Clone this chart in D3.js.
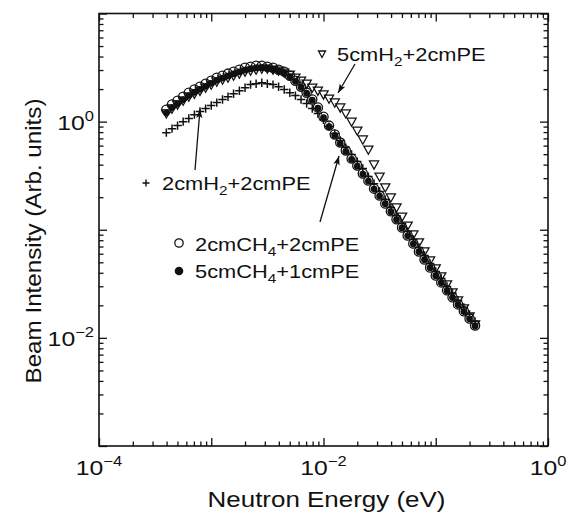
<!DOCTYPE html>
<html><head><meta charset="utf-8">
<script src="https://cdn.jsdelivr.net/npm/d3@7"></script>
<style>
body{margin:0;background:#fff}
svg{display:block}
text{font-family:"Liberation Sans",Arial,Helvetica,sans-serif;fill:#111}
</style>
</head><body>
<svg id="c" width="571" height="515"></svg>
<script>
// ---- data ----
const energy = [3.98e-4,4.47e-4,5.01e-4,5.62e-4,6.31e-4,7.08e-4,7.94e-4,8.91e-4,
  1.00e-3,1.12e-3,1.26e-3,1.41e-3,1.58e-3,1.78e-3,2.00e-3,2.24e-3,2.51e-3,2.82e-3,3.16e-3,3.55e-3,3.98e-3,4.47e-3,5.01e-3,5.62e-3,6.31e-3,7.08e-3,7.94e-3,8.91e-3,
  1.00e-2,1.12e-2,1.26e-2,1.41e-2,1.58e-2,1.78e-2,2.00e-2,2.24e-2,2.51e-2,2.82e-2,3.16e-2,3.55e-2,3.98e-2,4.47e-2,5.01e-2,5.62e-2,6.31e-2,7.08e-2,7.94e-2,8.91e-2,
  0.100,0.112,0.126,0.141,0.158,0.178,0.200,0.224];
const ch4_2cm_pe2 = [1.29,1.44,1.56,1.70,1.85,1.98,2.10,2.24,2.39,2.55,2.66,2.78,2.90,3.02,3.15,
  3.22,3.29,3.29,3.22,3.15,3.02,2.90,2.66,2.39,2.10,1.85,1.60,1.35,1.11,
  0.919,0.759,0.640,0.540,0.455,0.392,0.331,0.285,0.240,0.207,0.175,0.148,0.125,0.105,0.0885,0.0747,0.0630,0.0531,0.0448,0.0378,0.0326,0.0275,0.0237,0.0204,0.0176,0.0151,0.0130];
const ch4_5cm_pe1 = [1.21,1.35,1.47,1.60,1.74,1.87,1.99,2.12,2.26,2.41,2.52,2.64,2.76,2.88,3.00,
  3.08,3.14,3.16,3.12,3.06,2.95,2.82,2.60,2.36,2.08,1.83,1.58,1.33,1.09,
  0.90,0.745,0.628,0.530,0.448,0.387,0.327,0.282,0.238,0.205,0.174,0.147,0.124,0.104,0.0878,0.0741,0.0626,0.0528,0.0446,0.0376,0.0324,0.0273,0.0236,0.0203,0.0175,0.0150,0.0129];
const h2_5cm_pe2 = [1.19,1.32,1.44,1.56,1.70,1.81,1.93,2.06,2.20,2.34,2.44,2.55,2.66,2.78,2.90,
  2.96,3.02,3.09,3.09,3.02,2.96,2.84,2.72,2.55,2.39,2.24,2.06,1.93,1.78,
  1.63,1.50,1.35,1.19,1.00,0.826,0.682,0.551,0.401,0.310,0.246,0.199,0.161,0.132,0.109,0.0903,0.0762,0.0630,0.0520,0.0439,0.0370,0.0312,0.0263,0.0222,0.0187,0.0158,0.0133];
const h2_2cm_pe2 = [0.791,0.861,0.919,1.00,1.07,1.16,1.24,1.32,1.41,1.50,1.60,1.70,1.81,1.93,2.06,
  2.20,2.24,2.29,2.24,2.20,2.10,1.98,1.85,1.74,1.60,1.47,1.32,1.19,1.04,
  0.899,0.775,0.668,0.575,0.496,0.427,0.368,0.310,0.267,0.226,0.190,0.161,0.135,0.114,0.0964,0.0813,0.0686,0.0578,0.0488,0.0411,0.0355,0.0299,0.0258,0.0222,0.0191,0.0165,0.0142];
const xLabelTicks = [1e-4, 1e-2, 1];
const xLabelExps = ["\u22124", "\u22122", "0"];
const yLabelTicks = [1, 1e-2];
const yLabelExps = ["0", "\u22122"];
const xTitle = "Neutron Energy (eV)";
const yTitle = "Beam Intensity (Arb. units)";

// ---- layout ----
const L = 99, R = 548, T = 13.5, B = 446;
const SX = 1.18; // horizontal stretch of the lettering in the scan
const svg = d3.select("#c");
const x = d3.scaleLog().domain([1e-4, 1]).range([L, R]);
const y = d3.scaleLog().domain([1e-3, 10]).range([B, T]);
const isMajor = v => Math.abs(Math.log10(v) - Math.round(Math.log10(v))) < 1e-6;

// ticks (inward on all four sides)
const xt = x.ticks(), yt = y.ticks();
function addAxis(axisFn, scale, vals, len, tr) {
  const g = svg.append("g").attr("transform", tr)
    .call(axisFn(scale).tickValues(vals).tickSizeInner(len).tickSizeOuter(0).tickFormat(""));
  g.select(".domain").remove();
  g.selectAll(".tick line").attr("stroke", "#111").attr("stroke-width", 1.3);
}
const maj = 8, mnr = 4.5;
addAxis(d3.axisBottom, x, xt.filter(isMajor), -maj, `translate(0,${B})`);
addAxis(d3.axisBottom, x, xt.filter(v => !isMajor(v)), -mnr, `translate(0,${B})`);
addAxis(d3.axisTop, x, xt.filter(isMajor), -maj, `translate(0,${T})`);
addAxis(d3.axisTop, x, xt.filter(v => !isMajor(v)), -mnr, `translate(0,${T})`);
addAxis(d3.axisLeft, y, yt.filter(isMajor), -maj, `translate(${L},0)`);
addAxis(d3.axisLeft, y, yt.filter(v => !isMajor(v)), -mnr, `translate(${L},0)`);
addAxis(d3.axisRight, y, yt.filter(isMajor), -maj, `translate(${R},0)`);
addAxis(d3.axisRight, y, yt.filter(v => !isMajor(v)), -mnr, `translate(${R},0)`);

// frame
svg.append("rect").attr("x", L).attr("y", T).attr("width", R - L).attr("height", B - T)
  .attr("fill", "none").attr("stroke", "#111").attr("stroke-width", 1.6);

// tick labels
function powLabel(px, py, exp, anchor) {
  const t = svg.append("text").attr("transform", `translate(${px},${py}) scale(${SX},1)`)
    .attr("text-anchor", anchor).attr("font-size", 21);
  t.append("tspan").text("10");
  t.append("tspan").attr("font-size", 14).attr("dy", -9).text(exp);
}
xLabelTicks.forEach((v, i) => powLabel(x(v), 475, xLabelExps[i], "middle"));
yLabelTicks.forEach((v, i) => powLabel(94, y(v) + 8, yLabelExps[i], "end"));

// axis titles
svg.append("text").attr("transform", `translate(${(L + R) / 2 + 3},507) scale(${SX},1)`)
  .attr("text-anchor", "middle").attr("font-size", 22).text(xTitle);
svg.append("text").attr("transform", `translate(41,241) rotate(-90) scale(1.1,1)`)
  .attr("text-anchor", "middle").attr("font-size", 22).text(yTitle);

// data markers
const pts = arr => energy.map((e, i) => [x(e), y(arr[i])]);
const plot = svg.append("g");
plot.selectAll(".f").data(pts(ch4_5cm_pe1)).join("circle")
  .attr("cx", d => d[0]).attr("cy", d => d[1]).attr("r", 3.4).attr("fill", "#111");
plot.selectAll(".p").data(pts(h2_2cm_pe2)).join("path")
  .attr("transform", d => `translate(${d[0]},${d[1]})`)
  .attr("d", "M-4.2,0H4.2M0,-4.2V4.2").attr("stroke", "#111").attr("stroke-width", 1.5).attr("fill", "none");
const triPath = "M-4.6,-3.6L4.6,-3.6L0,4.6Z";
plot.selectAll(".t").data(pts(h2_5cm_pe2)).join("path")
  .attr("transform", d => `translate(${d[0]},${d[1]})`)
  .attr("d", triPath).attr("stroke", "#111").attr("stroke-width", 1.25).attr("fill", "none");
plot.selectAll(".o").data(pts(ch4_2cm_pe2)).join("circle")
  .attr("cx", d => d[0]).attr("cy", d => d[1]).attr("r", 4.6)
  .attr("fill", "none").attr("stroke", "#111").attr("stroke-width", 1.3);

// legend labels with chemical subscripts
function chemLabel(px, py, parts) {
  const t = svg.append("text").attr("transform", `translate(${px},${py}) scale(${SX},1)`)
    .attr("font-size", 18.5);
  let low = false;
  parts.forEach(([s, sub]) => {
    if (sub) { t.append("tspan").attr("font-size", 13).attr("dy", 5).text(s); low = true; }
    else { t.append("tspan").attr("dy", low ? -5 : 0).text(s); low = false; }
  });
}
// triangles label
svg.append("path").attr("transform", "translate(322,54)").attr("d", "M-3.5,-3L3.5,-3L0,3.5Z")
  .attr("fill", "none").attr("stroke", "#111").attr("stroke-width", 1.3);
chemLabel(337, 61, [["5cmH"], ["2", 1], ["+2cmPE"]]);
// crosses label
svg.append("path").attr("transform", "translate(146,183)").attr("d", "M-3.5,0H3.5M0,-3.5V3.5")
  .attr("stroke", "#111").attr("stroke-width", 1.4);
chemLabel(162, 190, [["2cmH"], ["2", 1], ["+2cmPE"]]);
// open circles label
svg.append("circle").attr("cx", 179).attr("cy", 243).attr("r", 4.2)
  .attr("fill", "none").attr("stroke", "#111").attr("stroke-width", 1.3);
chemLabel(195, 251, [["2cmCH"], ["4", 1], ["+2cmPE"]]);
// filled circles label
svg.append("circle").attr("cx", 179).attr("cy", 271).attr("r", 4.3).attr("fill", "#111");
chemLabel(195, 278, [["5cmCH"], ["4", 1], ["+1cmPE"]]);

// arrows
function arrow(x1, y1, x2, y2) {
  svg.append("line").attr("x1", x1).attr("y1", y1).attr("x2", x2).attr("y2", y2)
    .attr("stroke", "#111").attr("stroke-width", 1.3);
  const a = Math.atan2(y2 - y1, x2 - x1) * 180 / Math.PI;
  svg.append("path").attr("transform", `translate(${x2},${y2}) rotate(${a})`)
    .attr("d", "M0,0L-9,-3.2L-7,0L-9,3.2Z").attr("fill", "#111");
}
arrow(355, 64, 338, 93);
arrow(195, 170, 200, 109);
arrow(320, 222, 339, 156);
</script>
</body></html>
